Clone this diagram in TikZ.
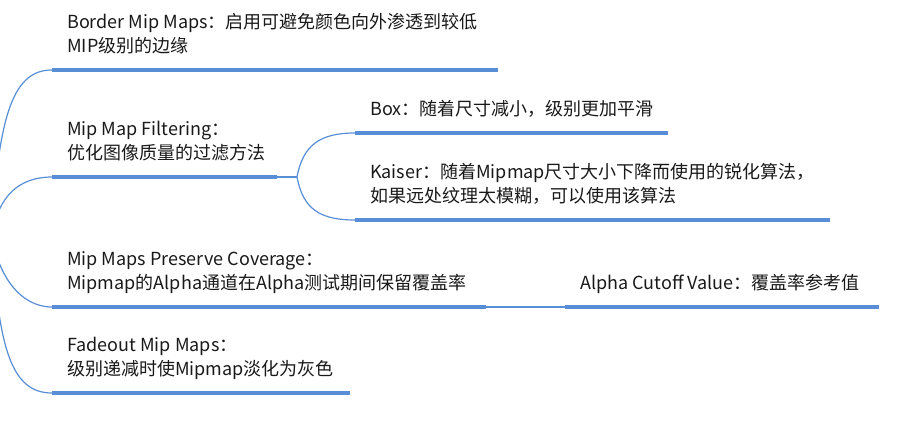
\documentclass[tikz,border=0pt]{standalone}
\usepackage{fontspec}
\setmainfont{Noto Sans CJK SC}
\usepackage{tikz}
\definecolor{mapblue}{RGB}{88,142,213}
\definecolor{maptext}{RGB}{25,25,25}

\begin{document}
\begin{tikzpicture}[x=1pt, y=-1pt,
    topic/.style={anchor=south west, align=left, inner xsep=15pt, inner ysep=17.5pt,
      text depth=0pt, text=maptext, font=\fontsize{18pt}{23.5pt}\selectfont},
    bar/.style={mapblue, line width=4pt},
    link/.style={mapblue, line width=1.2pt}]
      \useasboundingbox (0,0) rectangle (899,426);
      % \draw[fill=white] (0,0) rectangle (899,426);
      \coordinate(root) at (-8,236);
      \coordinate(fork) at (297,177);

      \node(border) [topic] at (52,70) {Border Mip Maps：启用可避免颜色向外渗透到较低\\MIP级别的边缘};
      \node(filtering) [topic] at (52,177) {Mip Map Filtering：\\优化图像质量的过滤方法};
      \node(box) [topic] at (355,133) {Box：随着尺寸减小，级别更加平滑};
      \node(kaiser) [topic] at (355,220) {Kaiser：随着Mipmap尺寸大小下降而使用的锐化算法，\\如果远处纹理太模糊，可以使用该算法};
      \node(preserve) [topic] at (52,307) {Mip Maps Preserve Coverage：\\Mipmap的Alpha通道在Alpha测试期间保留覆盖率};
      \node(alpha) [topic] at (565,307) {Alpha Cutoff Value：覆盖率参考值};
      \node(fadeout) [topic] at (52,393) {Fadeout Mip Maps：\\级别递减时使Mipmap淡化为灰色};

      \draw[bar](border.south west) -- ++(446,0);
      \draw[bar](filtering.south west) -- ++(225,0) coordinate(filtering-end);
      \draw[bar](box.south west) -- ++(313,0);
      \draw[bar](kaiser.south west) -- ++(475,0);
      \draw[bar](preserve.south west) -- ++(434,0) coordinate(preserve-end);
      \draw[bar](alpha.south west) -- ++(314,0);
      \draw[bar](fadeout.south west) -- ++(298,0);

      \draw[link](root) .. controls (-2,110) and (15,70) .. (border.south west);
      \draw[link](root) .. controls (-2,195) and (20,177) .. (filtering.south west);
      \draw[link](root) .. controls (-2,275) and (20,307) .. (preserve.south west);
      \draw[link](root) .. controls (-2,350) and (12,393) .. (fadeout.south west);
      \draw[link](filtering-end) -- (fork);
      \draw[link](fork) .. controls (303,145) and (320,133) .. (box.south west);
      \draw[link](fork) .. controls (303,209) and (320,220) .. (kaiser.south west);
      \draw[link](preserve-end) -- (alpha.south west);
    \end{tikzpicture}
\end{document}
